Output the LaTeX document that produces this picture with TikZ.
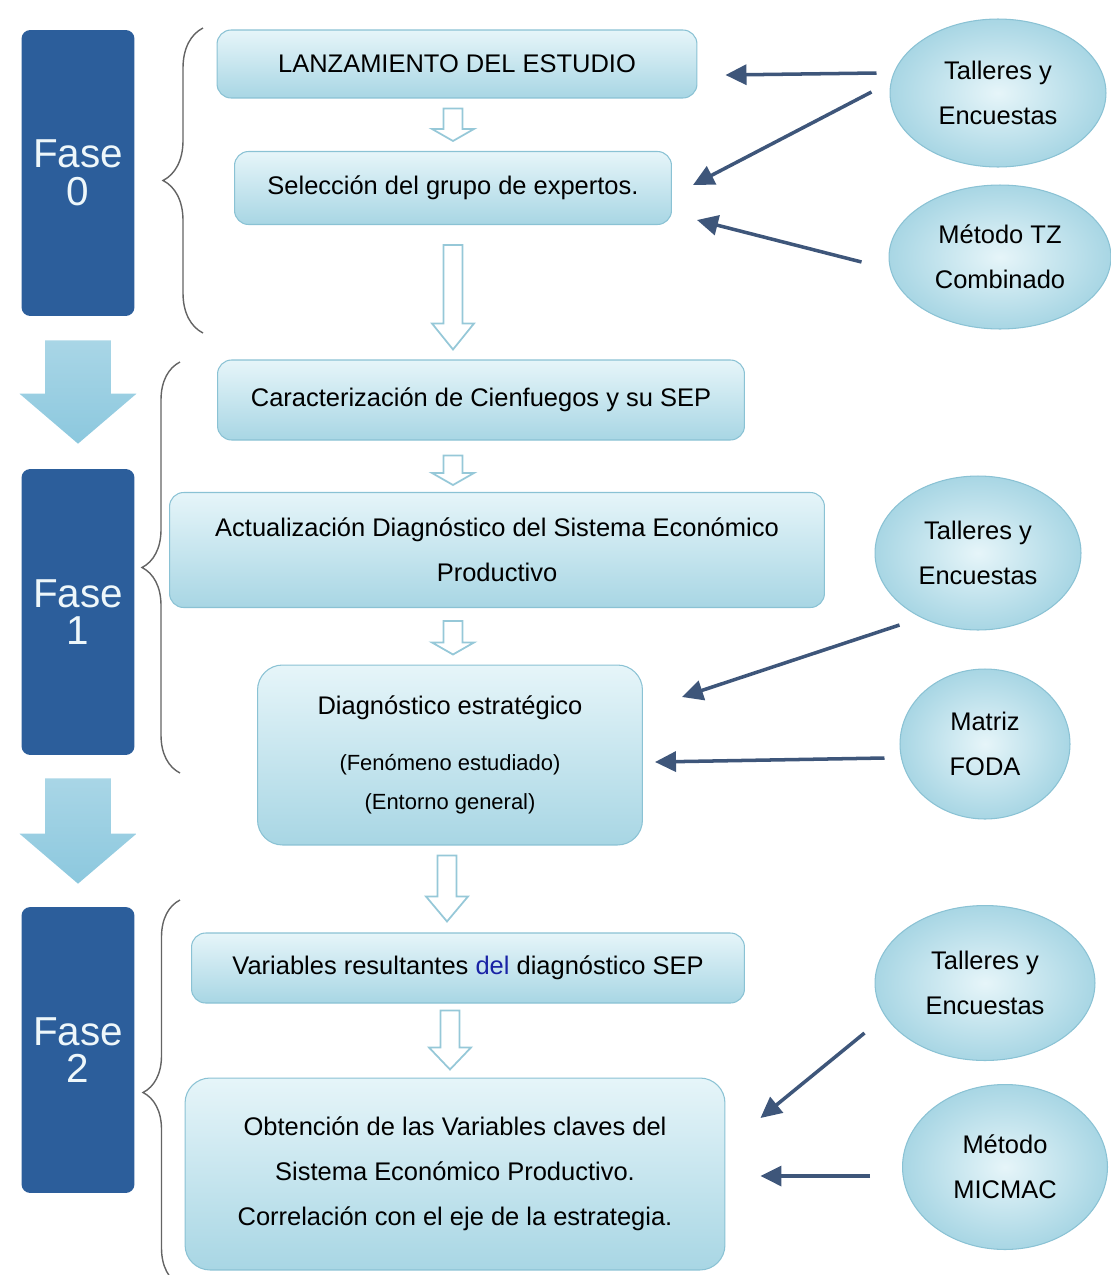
\documentclass[tikz,border=0pt]{standalone}
\usepackage{fontspec}
\setmainfont{Liberation Sans}
\usetikzlibrary{calc,arrows.meta,decorations.pathreplacing,shapes.geometric}

\definecolor{phaseblue}{RGB}{44,94,155}
\definecolor{phaselight}{RGB}{140,200,222}
\definecolor{boxtop}{RGB}{230,245,249}
\definecolor{boxbottom}{RGB}{168,214,228}
\definecolor{boxline}{RGB}{138,194,212}
\definecolor{feedblue}{RGB}{62,86,122}
\definecolor{flowline}{RGB}{150,200,216}
\definecolor{bracegray}{RGB}{100,100,100}
\definecolor{delblue}{RGB}{25,35,165}

\newcommand{\boxfont}{\fontsize{14.5}{25.5}\selectfont}
\newcommand{\notefont}{\fontsize{12.5}{22}\selectfont}

\tikzset{
  phasebox/.style={rectangle, rounded corners=5pt, fill=phaseblue, minimum width=2.26cm,
    minimum height=5.72cm, text=white!85!phaselight, font=\fontsize{23}{21.5}\selectfont,
    align=center, inner sep=0pt},
  stepbox/.style={rectangle, rounded corners=8pt, draw=boxline, line width=0.6pt,
    top color=boxtop, bottom color=boxbottom, font=\boxfont, align=center, inner sep=2pt},
  toolnode/.style={ellipse, draw=boxline, line width=0.6pt, inner color=boxtop,
    outer color=boxbottom, font=\boxfont, align=center, inner sep=0pt},
  feed/.style={draw=feedblue, line width=2pt, -{Triangle[length=0.42cm,width=0.4cm]}},
  hollowflow/.style={draw=flowline, line width=1pt, fill=white,
    to path={let \p1=(\tikztostart), \p2=(\tikztotarget) in
      (\x1-0.19cm,\y1) -- (\x1-0.19cm,\y2+#1) -- (\x1-0.42cm,\y2+#1) -- (\x1,\y2)
      -- (\x1+0.42cm,\y2+#1) -- (\x1+0.19cm,\y2+#1) -- (\x1+0.19cm,\y1) -- cycle}},
  hollowflow/.default=0.26cm,
  phaseflow/.style={top color=phaselight!75!white, bottom color=phaselight,
    to path={let \p1=(\tikztostart), \p2=(\tikztotarget) in
      (\x1-0.66cm,\y1) -- (\x1-0.66cm,\y2+1cm) -- (\x1-1.17cm,\y2+1cm) -- (\x1,\y2)
      -- (\x1+1.17cm,\y2+1cm) -- (\x1+0.66cm,\y2+1cm) -- (\x1+0.66cm,\y1) -- cycle}},
  phasebrace/.style={decorate, decoration={brace, amplitude=#1}, draw=bracegray, line width=0.8pt}
}

\begin{document}
\begin{tikzpicture}[x=0.02cm, y=-0.02cm]
  \useasboundingbox (0,0) rectangle (1110,1275);

  % phases
  \node[phasebox] (fase0) at (78,173)  {Fase\\0};
  \node[phasebox] (fase1) at (78,612)  {Fase\\1};
  \node[phasebox] (fase2) at (78,1050) {Fase\\2};
  \path[phaseflow] ($(fase0.south)+(0,24)$) to ($(fase1.north)+(0,-25)$);
  \path[phaseflow] ($(fase1.south)+(0,23)$) to ($(fase2.north)+(0,-23)$);

  % braces
  \draw[phasebrace=0.8cm]  (203,333) -- (203,28);
  \draw[phasebrace=0.76cm] (180,773) -- (180,362);
  \draw[phasebrace=0.74cm] (180,1285) -- (180,900);

  % steps
  \node[stepbox, minimum width=9.6cm, minimum height=1.36cm] (lanz) at (457,64) {LANZAMIENTO DEL ESTUDIO};
  \node[stepbox, minimum width=8.74cm, minimum height=1.46cm] (sel) at (453,188) {Selección del grupo de expertos.};
  \node[stepbox, minimum width=10.54cm, minimum height=1.6cm] (carac) at (481,400) {Caracterización de Cienfuegos y su SEP};
  \node[stepbox, minimum width=13.1cm, minimum height=2.3cm] (actual) at (497,550)
    {Actualización Diagnóstico del Sistema Económico\\Productivo};
  \node[stepbox, rounded corners=0.5cm, minimum width=7.7cm, minimum height=3.6cm] (diag) at (450,755)
    {Diagnóstico estratégico\\[6pt]\notefont(Fenómeno estudiado)\\[-3pt]\notefont(Entorno general)};
  \node[stepbox, minimum width=11.06cm, minimum height=1.4cm] (vars) at (468,968)
    {Variables resultantes \textcolor{delblue}{del} diagnóstico SEP};
  \node[stepbox, rounded corners=0.5cm, minimum width=10.8cm, minimum height=3.84cm] (obt) at (455,1174)
    {Obtención de las Variables claves del\\Sistema Económico Productivo.\\Correlación con el eje de la estrategia.};

  \draw[hollowflow=0.24cm] ($(lanz.south)+(-4,10)$) to ($(sel.north)+(0,-10)$);
  \draw[hollowflow=0.52cm] ($(sel.south)+(0,20)$) to ($(carac.north)+(0,-10)$);
  \draw[hollowflow=0.24cm] ($(carac.south)+(-28,15)$) to ($(actual.north)+(0,-7)$);
  \draw[hollowflow=0.24cm] ($(actual.south)+(-44,13)$) to ($(diag.north)+(0,-10)$);
  \draw[hollowflow=0.5cm] ($(diag.south)+(-3,10)$) to ($(vars.north)+(0,-11)$);
  \draw[hollowflow=0.44cm] ($(vars.south)+(-18,7)$) to ($(obt.north)+(0,-8)$);

  % tools
  \node[toolnode, minimum width=4.32cm, minimum height=2.96cm] (tal0) at (998,93) {Talleres y\\Encuestas};
  \node[toolnode, minimum width=4.44cm, minimum height=2.88cm] (tz) at (1000,257) {Método TZ\\Combinado};
  \node[toolnode, minimum width=4.12cm, minimum height=3.08cm] (tal1) at (978,553) {Talleres y\\Encuestas};
  \node[toolnode, minimum width=3.4cm, minimum height=3cm] (foda) at (985,744) {Matriz\\FODA};
  \node[toolnode, minimum width=4.4cm, minimum height=3.1cm] (tal2) at (985,983) {Talleres y\\Encuestas};
  \node[toolnode, minimum width=4.1cm, minimum height=3.3cm] (micmac) at (1005,1167) {Método\\MICMAC};

  \draw[feed] ($(tal0.west)+(-13,-20)$) -- ($(lanz.east)+(28,11)$);
  \draw[feed] ($(tal0.west)+(-18,-1)$) -- ($(sel.east)+(21,-3)$);
  \draw[feed] ($(tz.west)+(-27,5)$) -- ($(sel.east)+(25,32)$);
  \draw[feed] ($(tal1.west)+(25,72)$) -- ($(diag.east)+(39,-58)$);
  \draw[feed] ($(foda.west)+(-15,14)$) -- ($(diag.east)+(12,7)$);
  \draw[feed] ($(tal2.west)+(-10,50)$) -- ($(obt.east)+(35,-56)$);
  \draw[feed] ($(micmac.west)+(-32,9)$) -- ($(obt.east)+(35,2)$);
\end{tikzpicture}
\end{document}
